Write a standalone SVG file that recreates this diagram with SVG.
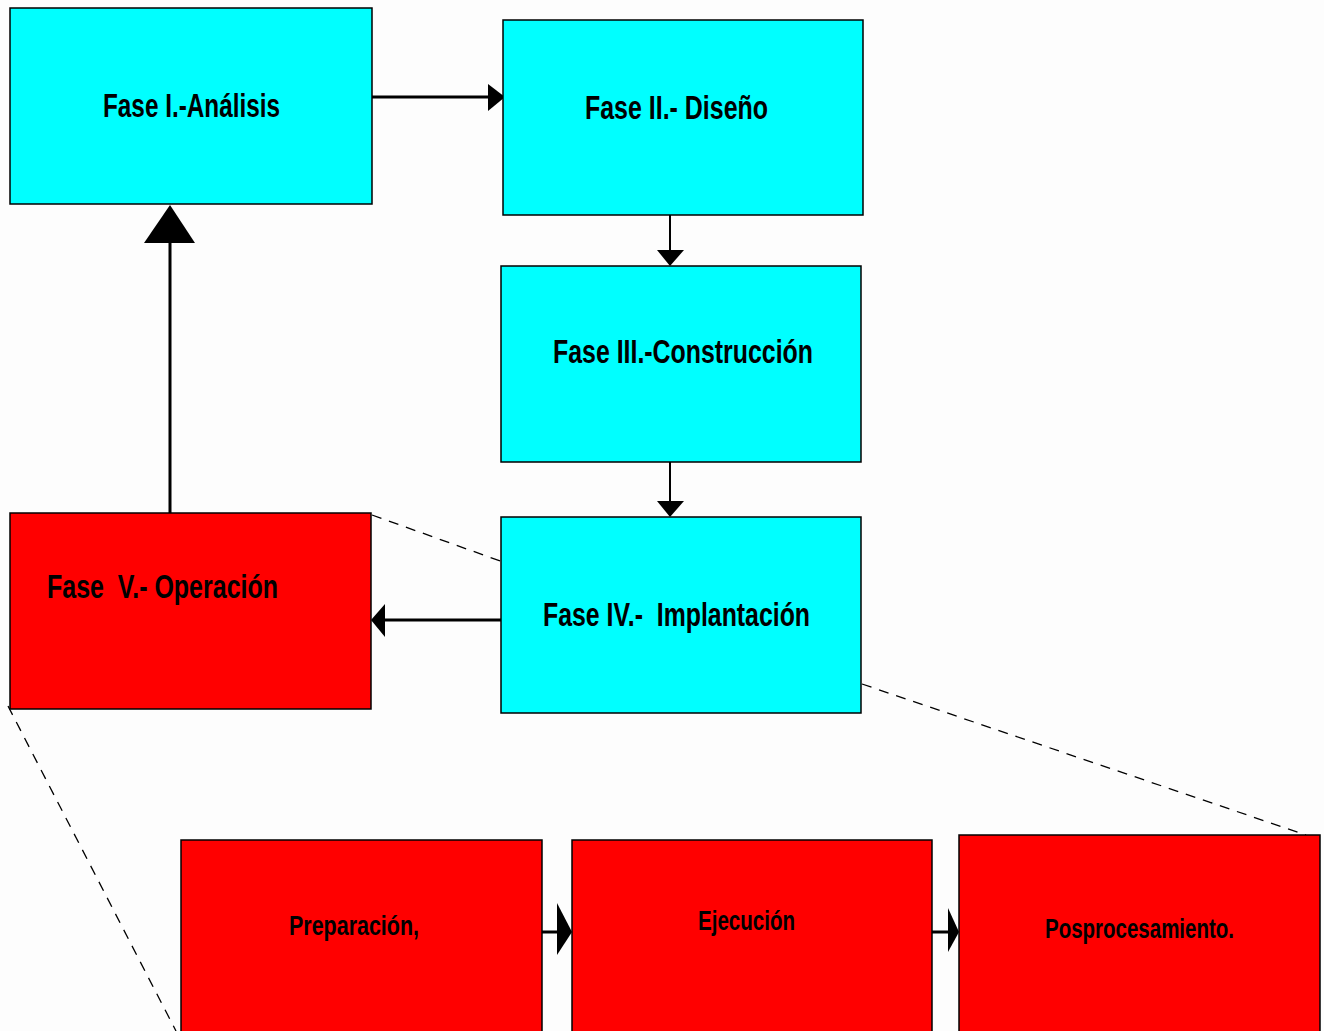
<svg xmlns="http://www.w3.org/2000/svg" width="1324" height="1031" viewBox="0 0 1324 1031">
  <style>
    .bg { fill: #fdfdfd; }
    .cyan { fill: #00ffff; stroke: #000; stroke-width: 1.5; }
    .red { fill: #ff0000; stroke: #000; stroke-width: 1.5; }
    .lbl { font-family: "Liberation Sans", Arial, sans-serif; font-weight: bold; font-size: 33px; fill: #000; white-space: pre; }
    .small { font-size: 27px; }
    .conn { stroke: #000; stroke-width: 3; fill: none; }
    .thin { stroke: #000; stroke-width: 2; fill: none; }
    .dash { stroke: #000; stroke-width: 1.3; stroke-dasharray: 10 8; fill: none; }
    .head { fill: #000; }
  </style>
  <rect class="bg" x="0" y="0" width="1324" height="1031"/>

  <g id="connectors">
    <!-- zoom-out guide lines from the phase boxes to the sub-steps -->
    <line class="dash" x1="372" y1="515" x2="503" y2="562"/>
    <line class="dash" x1="862" y1="684" x2="1306" y2="835"/>
    <line class="dash" x1="8" y1="706" x2="176" y2="1031"/>

    <!-- I -> II -->
    <line class="conn" x1="372" y1="97" x2="492" y2="97"/>
    <polygon class="head" points="488,84 505,97 488,111"/>
    <!-- II -> III -->
    <line class="thin" x1="670" y1="215" x2="670" y2="252"/>
    <polygon class="head" points="657,250 684,250 670,266"/>
    <!-- III -> IV -->
    <line class="thin" x1="670" y1="462" x2="670" y2="503"/>
    <polygon class="head" points="657,501 684,501 670,517"/>
    <!-- IV -> V -->
    <line class="conn" x1="501" y1="620" x2="382" y2="620"/>
    <polygon class="head" points="385,604 371,620 385,637"/>
    <!-- V -> I -->
    <line class="conn" x1="170" y1="513" x2="170" y2="240"/>
    <polygon class="head" points="170,205 195,243 144,243"/>
    <!-- Preparación -> Ejecución -->
    <line class="conn" x1="542" y1="932" x2="560" y2="932"/>
    <polygon class="head" points="557,903 572,932 557,955"/>
    <!-- Ejecución -> Posprocesamiento -->
    <line class="conn" x1="932" y1="932" x2="950" y2="932"/>
    <polygon class="head" points="948,908 959,932 948,952"/>
  </g>

  <g id="fase1">
    <rect class="cyan" x="10" y="8" width="362" height="196"/>
    <text class="lbl" x="103" y="117" textLength="177" lengthAdjust="spacingAndGlyphs">Fase I.-Análisis</text>
  </g>
  <g id="fase2">
    <rect class="cyan" x="503" y="20" width="360" height="195"/>
    <text class="lbl" x="585" y="119" textLength="183" lengthAdjust="spacingAndGlyphs">Fase II.- Diseño</text>
  </g>
  <g id="fase3">
    <rect class="cyan" x="501" y="266" width="360" height="196"/>
    <text class="lbl" x="553" y="363" textLength="260" lengthAdjust="spacingAndGlyphs">Fase III.-Construcción</text>
  </g>
  <g id="fase4">
    <rect class="cyan" x="501" y="517" width="360" height="196"/>
    <text class="lbl" x="543" y="626" textLength="267" lengthAdjust="spacingAndGlyphs" xml:space="preserve">Fase IV.-  Implantación</text>
  </g>
  <g id="fase5">
    <rect class="red" x="10" y="513" width="361" height="196"/>
    <text class="lbl" x="47" y="598" textLength="231" lengthAdjust="spacingAndGlyphs" xml:space="preserve">Fase  V.- Operación</text>
  </g>
  <g id="preparacion">
    <rect class="red" x="181" y="840" width="361" height="195"/>
    <text class="lbl small" x="289" y="935" textLength="130" lengthAdjust="spacingAndGlyphs">Preparación,</text>
  </g>
  <g id="ejecucion">
    <rect class="red" x="572" y="840" width="360" height="195"/>
    <text class="lbl small" x="698" y="930" textLength="97" lengthAdjust="spacingAndGlyphs">Ejecución</text>
  </g>
  <g id="posprocesamiento">
    <rect class="red" x="959" y="835" width="361" height="200"/>
    <text class="lbl small" x="1045" y="938" textLength="189" lengthAdjust="spacingAndGlyphs">Posprocesamiento.</text>
  </g>
</svg>
